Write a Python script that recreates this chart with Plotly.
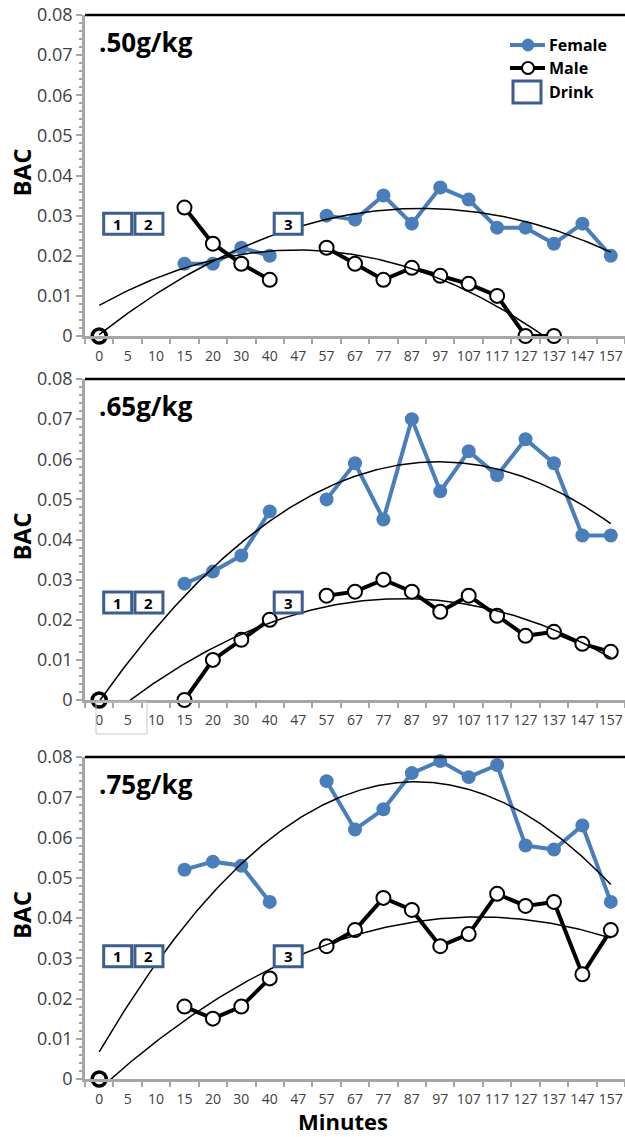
import numpy as np
import plotly.graph_objects as go

# ---------------- data ----------------
minutes = ["0", "5", "10", "15", "20", "30", "40", "47", "57", "67", "77",
           "87", "97", "107", "117", "127", "137", "147", "157"]
N = None
female_50 = [0, N, N, 0.018, 0.018, 0.022, 0.020, N, 0.030, 0.029, 0.035,
             0.028, 0.037, 0.034, 0.027, 0.027, 0.023, 0.028, 0.020]
male_50 = [0, N, N, 0.032, 0.023, 0.018, 0.014, N, 0.022, 0.018, 0.014,
           0.017, 0.015, 0.013, 0.010, 0.0, 0.0, N, N]
female_65 = [0, N, N, 0.029, 0.032, 0.036, 0.047, N, 0.050, 0.059, 0.045,
             0.070, 0.052, 0.062, 0.056, 0.065, 0.059, 0.041, 0.041]
male_65 = [0, N, N, 0.0, 0.010, 0.015, 0.020, N, 0.026, 0.027, 0.030,
           0.027, 0.022, 0.026, 0.021, 0.016, 0.017, 0.014, 0.012]
female_75 = [0, N, N, 0.052, 0.054, 0.053, 0.044, N, 0.074, 0.062, 0.067,
             0.076, 0.079, 0.075, 0.078, 0.058, 0.057, 0.063, 0.044]
male_75 = [0, N, N, 0.018, 0.015, 0.018, 0.025, N, 0.033, 0.037, 0.045,
           0.042, 0.033, 0.036, 0.046, 0.043, 0.044, 0.026, 0.037]

dose_labels = [".50g/kg", ".65g/kg", ".75g/kg"]
drink_labels = ["1", "2", "3"]
drink_x = [0.65, 1.75, 6.65]          # category-index positions
drink_y = [0.028, 0.0243, 0.0305]     # BAC level of the drink boxes per panel
legend_labels = ["Female", "Male", "Drink"]

# ---------------- styling ----------------
W, H = 625, 1137
BLUE = "#4A7EBB"
BOXBLUE = "#3B5E8C"
AXIS = "#A6A6A6"
TXT = "#404040"
FONT = "Open Sans"
panels_px = [(15, 336), (379, 700), (757, 1079)]
XL = 85

fig = go.Figure()
idx = list(range(len(minutes)))
data = [(female_50, male_50), (female_65, male_65), (female_75, male_75)]

for i, (fem, mal) in enumerate(data):
    n = "" if i == 0 else str(i + 1)
    xa, ya = "x" + n, "y" + n
    fig.add_trace(go.Scatter(
        x=idx, y=fem, mode="lines+markers", connectgaps=False, cliponaxis=False,
        line=dict(color=BLUE, width=4), marker=dict(size=14, color=BLUE),
        xaxis=xa, yaxis=ya, showlegend=False, name="Female"))
    lw = [3.5 if j == 0 else 2 for j in idx]
    fig.add_trace(go.Scatter(
        x=idx, y=mal, mode="lines+markers", connectgaps=False, cliponaxis=False,
        line=dict(color="black", width=4),
        marker=dict(size=14, color="white", line=dict(color="black", width=lw)),
        xaxis=xa, yaxis=ya, showlegend=False, name="Male"))
    for series in (fem, mal):
        xs = [j for j, v in enumerate(series) if v is not None]
        ys = [v for v in series if v is not None]
        c = np.polyfit(xs, ys, 2)
        xx = np.linspace(xs[0], xs[-1], 300)
        fig.add_trace(go.Scatter(
            x=xx, y=np.polyval(c, xx), mode="lines",
            line=dict(color="black", width=1.5),
            xaxis=xa, yaxis=ya, showlegend=False, hoverinfo="skip"))

shapes = []
annotations = []
for i, (t, b) in enumerate(panels_px):
    n = "" if i == 0 else str(i + 1)
    fig.layout["xaxis" + n] = dict(
        domain=[XL / W, 1], anchor="y" + n, range=[-0.5, len(minutes) - 0.5],
        tickmode="array", tickvals=idx, ticktext=minutes,
        ticks="outside", ticklen=5, tickcolor="rgba(0,0,0,0)",
        minor=dict(tickmode="array", tickvals=[k + 0.5 for k in range(-1, len(minutes))],
                   ticks="outside", ticklen=5, tickwidth=2, tickcolor=AXIS),
        showline=True, linecolor=AXIS, linewidth=2.5, showgrid=False, zeroline=False,
        tickfont=dict(family=FONT, size=14, color=TXT), automargin=False)
    fig.layout["yaxis" + n] = dict(
        domain=[1 - b / H, 1 - t / H], anchor="x" + n, range=[0, 0.08],
        tickmode="linear", tick0=0, dtick=0.01,
        ticks="outside", ticklen=6, tickwidth=2, tickcolor=AXIS,
        minor=dict(tick0=0, dtick=0.002, ticks="outside", ticklen=3, tickwidth=1.5, tickcolor=AXIS),
        showline=True, linecolor=AXIS, linewidth=2.5, showgrid=False, zeroline=False,
        tickfont=dict(family=FONT, size=18, color=TXT), automargin=False)
    # top border
    shapes.append(dict(type="line", xref="x" + n + " domain", yref="y" + n + " domain",
                       x0=0, x1=1, y0=1, y1=1, line=dict(color="black", width=2.5)))
    # drink boxes
    for lab, dx in zip(drink_labels, drink_x):
        shapes.append(dict(type="rect", xref="x" + n, yref="y" + n,
                           xsizemode="pixel", ysizemode="pixel",
                           xanchor=dx, yanchor=drink_y[i],
                           x0=-14, x1=14, y0=-10.5, y1=10.5,
                           fillcolor="white", line=dict(color=BOXBLUE, width=3)))
        annotations.append(dict(xref="x" + n, yref="y" + n, x=dx, y=drink_y[i],
                                text="<b>%s</b>" % lab, showarrow=False,
                                font=dict(family=FONT, size=15, color="black")))
    # dose label
    annotations.append(dict(xref="paper", yref="paper", x=97 / W, y=1 - (t + 27) / H,
                            xanchor="left", yanchor="middle", showarrow=False,
                            text="<b>%s</b>" % dose_labels[i],
                            font=dict(family=FONT, size=26, color="black")))
    # BAC title
    annotations.append(dict(xref="paper", yref="paper", x=21 / W, y=1 - ((t + b) / 2 - 3) / H,
                            xanchor="center", yanchor="middle", showarrow=False,
                            textangle=-90, text="<b>BAC</b>",
                            font=dict(family=FONT, size=24, color="black")))

# grey box artifact under the middle panel's first labels
shapes.append(dict(type="rect", xref="paper", yref="paper",
                   x0=96 / W, x1=147 / W, y0=1 - 734 / H, y1=1 - 702 / H,
                   line=dict(color="#C8C8C8", width=1)))

# x-axis title
annotations.append(dict(xref="paper", yref="paper", x=343 / W, y=1 - 1121 / H,
                        xanchor="center", yanchor="middle", showarrow=False,
                        text="<b>Minutes</b>", font=dict(family=FONT, size=22, color="black")))

# manual legend
def px(x): return x / W
def py(y): return 1 - y / H
leg_y = [45, 68, 92]
shapes.append(dict(type="line", xref="paper", yref="paper", x0=px(510), x1=px(545),
                   y0=py(leg_y[0]), y1=py(leg_y[0]), line=dict(color=BLUE, width=4)))
shapes.append(dict(type="circle", xref="paper", yref="paper", xsizemode="pixel", ysizemode="pixel",
                   xanchor=px(528), yanchor=py(leg_y[0]), x0=-6, x1=6, y0=-6, y1=6,
                   fillcolor=BLUE, line=dict(color=BLUE, width=1)))
shapes.append(dict(type="line", xref="paper", yref="paper", x0=px(510), x1=px(545),
                   y0=py(leg_y[1]), y1=py(leg_y[1]), line=dict(color="black", width=4)))
shapes.append(dict(type="circle", xref="paper", yref="paper", xsizemode="pixel", ysizemode="pixel",
                   xanchor=px(528), yanchor=py(leg_y[1]), x0=-6, x1=6, y0=-6, y1=6,
                   fillcolor="white", line=dict(color="black", width=2)))
shapes.append(dict(type="rect", xref="paper", yref="paper", xsizemode="pixel", ysizemode="pixel",
                   xanchor=px(527), yanchor=py(leg_y[2]), x0=-14, x1=14, y0=-11, y1=11,
                   fillcolor="white", line=dict(color=BOXBLUE, width=3)))
for lab, y in zip(legend_labels, leg_y):
    annotations.append(dict(xref="paper", yref="paper", x=px(547), y=py(y),
                            xanchor="left", yanchor="middle", showarrow=False,
                            text="<b>%s</b>" % lab, font=dict(family=FONT, size=16, color="black")))

fig.update_layout(width=W, height=H, margin=dict(l=0, r=0, t=0, b=0),
                  paper_bgcolor="white", plot_bgcolor="white",
                  shapes=shapes, annotations=annotations, showlegend=False)
fig.write_html("out.html", config={"displayModeBar": False},
               post_script="document.body.style.margin='0px';document.body.style.overflow='hidden';")
